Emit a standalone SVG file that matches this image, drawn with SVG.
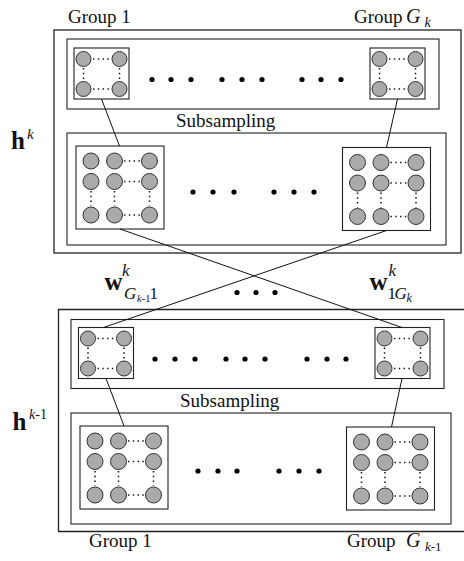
<svg xmlns="http://www.w3.org/2000/svg" xmlns:xlink="http://www.w3.org/1999/xlink" width="464" height="561" viewBox="0 0 464 561">
  <style>
    .frame { fill: #fff; stroke: #222; stroke-width: 1.3; }
    .box { fill: #fff; stroke: #222; stroke-width: 1.1; }
    .unit { fill: #aaa; stroke: #333; stroke-width: 1; }
    .dot { stroke: #111; stroke-width: 1.5; stroke-dasharray: 1.4 3.4; fill: none; }
    .ell { fill: #000; }
    .link { stroke: #111; stroke-width: 1; fill: none; }
    text { font-family: "Liberation Serif", "Times New Roman", serif; fill: #111; }
    .lbl { font-size: 19px; }
    .it { font-style: italic; }
    .bf { font-weight: bold; }
  </style>
  <defs>
    <!-- 2x2 pooled map -->
    <symbol id="map2" overflow="visible">
      <rect class="box" x="0" y="0" width="55" height="51"/>
      <line class="dot" x1="19" y1="11" x2="37" y2="11"/>
      <line class="dot" x1="19" y1="41" x2="37" y2="41"/>
      <line class="dot" x1="9.5" y1="20" x2="9.5" y2="33"/>
      <line class="dot" x1="45.5" y1="20" x2="45.5" y2="33"/>
      <circle class="unit" cx="9.5" cy="11" r="7.5"/>
      <circle class="unit" cx="45.5" cy="11" r="7.5"/>
      <circle class="unit" cx="9.5" cy="41" r="7.5"/>
      <circle class="unit" cx="45.5" cy="41" r="7.5"/>
    </symbol>
    <!-- 3x3 detection map -->
    <symbol id="map3" overflow="visible">
      <rect class="box" x="0" y="0" width="88" height="83"/>
      <line class="dot" x1="48" y1="15" x2="64" y2="15"/>
      <line class="dot" x1="48" y1="35.5" x2="64" y2="35.5"/>
      <line class="dot" x1="48" y1="69" x2="64" y2="69"/>
      <line class="dot" x1="15" y1="45" x2="15" y2="60"/>
      <line class="dot" x1="38.5" y1="45" x2="38.5" y2="60"/>
      <line class="dot" x1="73.5" y1="45" x2="73.5" y2="60"/>
      <circle class="unit" cx="15" cy="15" r="8"/>
      <circle class="unit" cx="38.5" cy="15" r="8"/>
      <circle class="unit" cx="73.5" cy="15" r="8"/>
      <circle class="unit" cx="15" cy="35.5" r="8"/>
      <circle class="unit" cx="38.5" cy="35.5" r="8"/>
      <circle class="unit" cx="73.5" cy="35.5" r="8"/>
      <circle class="unit" cx="15" cy="69" r="8"/>
      <circle class="unit" cx="38.5" cy="69" r="8"/>
      <circle class="unit" cx="73.5" cy="69" r="8"/>
    </symbol>
  </defs>

  <!-- layer k -->
  <g id="layer-k">
    <rect class="frame" x="54" y="30" width="407" height="223"/>
  </g>
  <g id="pool-k">
    <rect class="box" x="67" y="39" width="372" height="70"/>
    <g class="ell">
      <circle cx="152" cy="79.5" r="2.6"/><circle cx="171" cy="79.5" r="2.6"/><circle cx="191" cy="79.5" r="2.6"/>
      <circle cx="222" cy="79.5" r="2.6"/><circle cx="242" cy="79.5" r="2.6"/><circle cx="262" cy="79.5" r="2.6"/>
      <circle cx="302" cy="79.5" r="2.6"/><circle cx="321" cy="79.5" r="2.6"/><circle cx="341" cy="79.5" r="2.6"/>
    </g>
  </g>
  <g id="pool-k-1"><use xlink:href="#map2" x="74" y="48"/></g>
  <g id="pool-k-G"><use xlink:href="#map2" x="370" y="48"/></g>
  <g id="detect-k">
    <rect class="box" x="67" y="133" width="379" height="112"/>
    <g class="ell">
      <circle cx="193" cy="192" r="2.6"/><circle cx="213" cy="192" r="2.6"/><circle cx="234" cy="192" r="2.6"/>
      <circle cx="274" cy="192" r="2.6"/><circle cx="294" cy="192" r="2.6"/><circle cx="314" cy="192" r="2.6"/>
    </g>
  </g>
  <g id="detect-k-1"><use xlink:href="#map3" x="76" y="146"/></g>
  <g id="detect-k-G"><use xlink:href="#map3" x="342.5" y="147.5"/></g>

  <!-- layer k-1 -->
  <g id="layer-k1">
    <path class="frame" d="M470,309.5 H58.5 V531.5 H470"/>
  </g>
  <g id="pool-k1">
    <rect class="box" x="71" y="319.5" width="373" height="69"/>
    <g class="ell">
      <circle cx="155" cy="359" r="2.6"/><circle cx="175" cy="359" r="2.6"/><circle cx="195" cy="359" r="2.6"/>
      <circle cx="226" cy="359" r="2.6"/><circle cx="245" cy="359" r="2.6"/><circle cx="265" cy="359" r="2.6"/>
      <circle cx="307" cy="359" r="2.6"/><circle cx="327" cy="359" r="2.6"/><circle cx="346" cy="359" r="2.6"/>
    </g>
  </g>
  <g id="pool-k1-1"><use xlink:href="#map2" x="78.5" y="327.5"/></g>
  <g id="pool-k1-G"><use xlink:href="#map2" x="375" y="327.5"/></g>
  <g id="detect-k1">
    <rect class="box" x="71" y="413" width="380" height="111"/>
    <g class="ell">
      <circle cx="198" cy="471" r="2.6"/><circle cx="218" cy="471" r="2.6"/><circle cx="237" cy="471" r="2.6"/>
      <circle cx="279" cy="471" r="2.6"/><circle cx="299" cy="471" r="2.6"/><circle cx="319" cy="471" r="2.6"/>
    </g>
  </g>
  <g id="detect-k1-1"><use xlink:href="#map3" x="80" y="426"/></g>
  <g id="detect-k1-G"><use xlink:href="#map3" x="346.5" y="427"/></g>

  <!-- connectors -->
  <g id="connectors">
    <line class="link" x1="101.5" y1="99" x2="119.5" y2="146"/>
    <line class="link" x1="397.5" y1="99" x2="386.5" y2="147.5"/>
    <line class="link" x1="120" y1="229" x2="402" y2="327.5"/>
    <line class="link" x1="386.5" y1="230.5" x2="103.5" y2="327.5"/>
    <line class="link" x1="106" y1="378.5" x2="124" y2="426"/>
    <line class="link" x1="402" y1="378.5" x2="391.5" y2="427"/>
    <g class="ell">
      <circle cx="237" cy="292.5" r="2.6"/><circle cx="256" cy="292.5" r="2.6"/><circle cx="275" cy="292.5" r="2.6"/>
    </g>
  </g>

  <!-- labels -->
  <g id="labels">
    <text class="lbl" x="68" y="23">Group 1</text>
    <text class="lbl" x="354" y="23">Group<tspan class="it" font-size="20" x="406">G</tspan><tspan class="it" font-size="14" x="424.5" y="27">k</tspan></text>
    <text class="lbl" x="176" y="127">Subsampling</text>
    <text class="lbl" x="180" y="406.5">Subsampling</text>
    <text class="lbl" x="89" y="546.5">Group 1</text>
    <text class="lbl" x="347" y="546.5">Group<tspan class="it" font-size="20" x="406">G</tspan><tspan font-size="13" x="425" y="550.5"><tspan class="it">k</tspan>-1</tspan></text>
    <text x="11" y="149" font-size="25"><tspan class="bf">h</tspan><tspan class="it" font-size="15" x="27" y="139">k</tspan></text>
    <text x="12.5" y="430" font-size="25"><tspan class="bf">h</tspan><tspan font-size="14" x="29" y="419"><tspan class="it">k</tspan>-1</tspan></text>
    <text x="104.5" y="290" font-size="25"><tspan class="bf">w</tspan><tspan class="it" font-size="17" x="122" y="276">k</tspan><tspan class="it" font-size="17" x="124" y="299">G</tspan><tspan font-size="10.5" x="137" y="302"><tspan class="it">k</tspan>-1</tspan><tspan font-size="17" x="149.5" y="299">1</tspan></text>
    <text x="369.5" y="290" font-size="25"><tspan class="bf">w</tspan><tspan class="it" font-size="17" x="388.5" y="276">k</tspan><tspan font-size="17" x="387.5" y="299">1</tspan><tspan class="it" font-size="17" x="394.5" y="299">G</tspan><tspan class="it" font-size="12" x="406.5" y="302">k</tspan></text>
  </g>
</svg>
